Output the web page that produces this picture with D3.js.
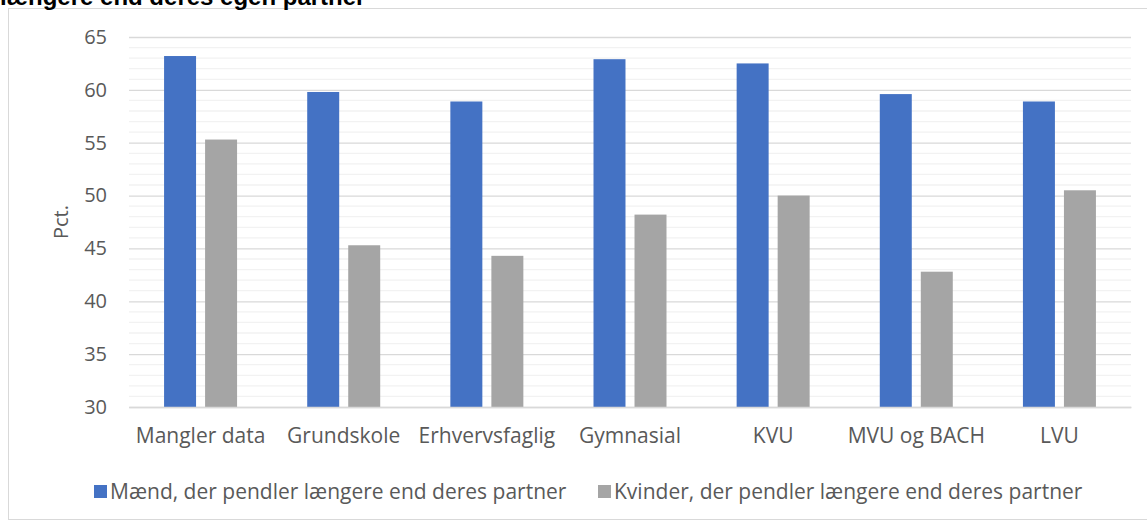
<!DOCTYPE html>
<html>
  <head>
    <meta charset="utf-8" />
    <title>Pendling</title>
    <script src="https://d3js.org/d3.v7.min.js"></script>
    <style>
      body { margin: 0; background: #fff; }
      text { font-family: "Open Sans", sans-serif; }
    </style>
  </head>
  <body>
    <svg width="1147" height="521"></svg>

    <script type="text/javascript">
      var categories = ["Mangler data", "Grundskole", "Erhvervsfaglig", "Gymnasial", "KVU", "MVU og BACH", "LVU"];
      var seriesNames = [
        "Mænd, der pendler længere end deres partner",
        "Kvinder, der pendler længere end deres partner"
      ];
      var maend = [63.2, 59.8, 58.9, 62.9, 62.5, 59.6, 58.9];
      var kvinder = [55.3, 45.3, 44.3, 48.2, 50.0, 42.8, 50.5];
      var yTicks = [30, 35, 40, 45, 50, 55, 60, 65];
      var titleText = "længere end deres egen partner";
      var yTitle = "Pct.";

      var colors = ["#4472c4", "#a5a5a5"];
      var svg = d3.select("svg");

      // chart area border
      svg.append("rect")
        .attr("x", 8.5).attr("y", 8.5)
        .attr("width", 1160).attr("height", 511)
        .attr("fill", "none")
        .attr("stroke", "#d9d9d9");

      // title (cut off at top, as in the source)
      svg.append("text")
        .attr("x", 0).attr("y", 5)
        .style("font-family", "'Liberation Sans', Arial, sans-serif")
        .style("font-weight", "bold")
        .style("font-size", "24px")
        .attr("fill", "#000")
        .text(titleText);

      var x = d3.scaleBand().domain(categories).range([129, 1131]);
      var x1 = d3.scaleBand().domain([0, 1]).range([-36.5, 36.5]).paddingInner(0.22);
      var y = d3.scaleLinear().domain([30, 65]).range([407, 37]);

      // minor gridlines
      var minor = d3.range(31, 65).filter(function (v) { return v % 5 !== 0; });
      svg.append("g").selectAll("line")
        .data(minor).enter().append("line")
        .attr("x1", 129).attr("x2", 1131)
        .attr("y1", function (d) { return y(d); })
        .attr("y2", function (d) { return y(d); })
        .attr("stroke", "#f2f2f2").attr("stroke-width", 1.3);

      // major gridlines + y axis labels
      var yAxis = svg.append("g")
        .attr("transform", "translate(129,0)")
        .call(d3.axisLeft(y).tickValues(yTicks).tickSize(-1002).tickPadding(22));
      yAxis.select(".domain").remove();
      yAxis.selectAll(".tick line").attr("stroke", "#d9d9d9").attr("stroke-width", 1.3);
      yAxis.selectAll(".tick text")
        .attr("fill", "#595959")
        .style("font-size", "20px")
        .style("font-family", "'Open Sans', sans-serif");

      // bars
      var data = [maend, kvinder];
      data.forEach(function (vals, s) {
        svg.append("g").selectAll("rect")
          .data(vals).enter().append("rect")
          .attr("x", function (d, i) { return x(categories[i]) + x.bandwidth() / 2 + x1(s); })
          .attr("y", function (d) { return y(d); })
          .attr("width", x1.bandwidth())
          .attr("height", function (d) { return y(30) - y(d); })
          .attr("fill", colors[s]);
      });

      // x axis
      var xAxis = svg.append("g")
        .attr("transform", "translate(0,407)")
        .call(d3.axisBottom(x).tickSize(0).tickPadding(21));
      xAxis.select(".domain").attr("stroke", "#d9d9d9").attr("stroke-width", 1.3);
      xAxis.selectAll(".tick text")
        .attr("fill", "#595959")
        .style("font-size", "21px")
        .style("font-family", "'Open Sans', sans-serif");

      // y title
      svg.append("text")
        .attr("transform", "translate(68,222) rotate(-90)")
        .attr("text-anchor", "middle")
        .attr("fill", "#595959")
        .style("font-size", "20px")
        .text(yTitle);

      // legend
      var legendX = [94, 598];
      seriesNames.forEach(function (name, s) {
        svg.append("rect")
          .attr("x", legendX[s]).attr("y", 485)
          .attr("width", 13).attr("height", 13)
          .attr("fill", colors[s]);
        svg.append("text")
          .attr("x", legendX[s] + 16).attr("y", 499)
          .attr("fill", "#595959")
          .style("font-size", "21px")
          .text(name);
      });
    </script>
  </body>
</html>
